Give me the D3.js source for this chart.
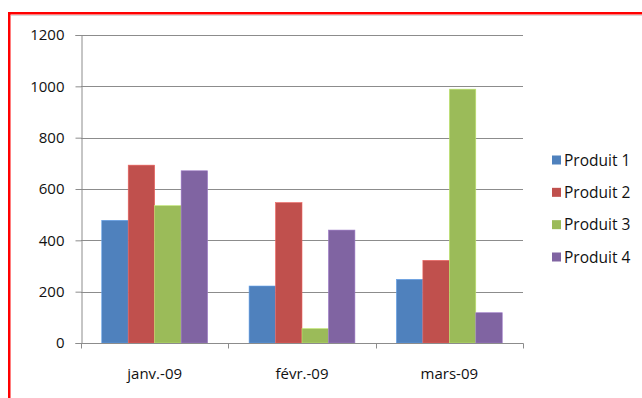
<!DOCTYPE html>
<html>
<head>
<meta charset="utf-8">
<script src="https://cdn.jsdelivr.net/npm/d3@7"></script>
<style>
  html, body { margin: 0; padding: 0; background: #fff; }
  svg { display: block; }
  text { font-family: "Open Sans", "Liberation Sans", sans-serif; fill: #111; }
</style>
</head>
<body>
<script>
// Monthly sales per product
const months = ["janv.-09", "févr.-09", "mars-09"];
const products = ["Produit 1", "Produit 2", "Produit 3", "Produit 4"];
const produit1 = [478, 222, 248];
const produit2 = [693, 547, 322];
const produit3 = [535, 56, 989];
const produit4 = [671, 440, 118];
const yTicks = [0, 200, 400, 600, 800, 1000, 1200];
const colors = ["#4F81BD", "#C0504D", "#9BBB59", "#8064A2"];

const seriesValues = [produit1, produit2, produit3, produit4];
const table = months.map((m, i) => ({
  month: m,
  values: products.map((p, j) => ({ product: p, value: seriesValues[j][i], idx: j }))
}));

const W = 642, H = 398;
const svg = d3.select("body").append("svg").attr("width", W).attr("height", H);

// Outer frame
svg.append("rect")
  .attr("x", 9.25).attr("y", 13.25)
  .attr("width", 700).attr("height", 500)
  .attr("fill", "#fff").attr("stroke", "#ff0000").attr("stroke-width", 2.5);
svg.append("line")
  .attr("x1", 11).attr("x2", 700).attr("y1", 15.5).attr("y2", 15.5)
  .attr("stroke", "#d9d9d9").attr("stroke-width", 1);

const plot = { left: 81, right: 523, top: 35, bottom: 343 };

const x0 = d3.scaleBand().domain(months).range([plot.left, plot.right]).paddingInner(0).paddingOuter(0);
const x1 = d3.scaleBand().domain(products).range([0, x0.bandwidth()]).paddingOuter(0.7843).paddingInner(0);
const y = d3.scaleLinear().domain([0, 1200]).range([plot.bottom, plot.top]);

// Gridlines
svg.append("g")
  .selectAll("line").data(yTicks.filter(t => t > 0)).join("line")
  .attr("x1", plot.left).attr("x2", plot.right)
  .attr("y1", d => Math.round(y(d)) + 0.5).attr("y2", d => Math.round(y(d)) + 0.5)
  .attr("stroke", "#8c8c8c").attr("stroke-width", 1);

// Bars
svg.append("g")
  .selectAll("g").data(table).join("g")
  .attr("transform", d => `translate(${x0(d.month)},0)`)
  .selectAll("rect").data(d => d.values).join("rect")
  .attr("x", d => x1(d.product))
  .attr("y", d => y(d.value))
  .attr("width", x1.bandwidth())
  .attr("height", d => y(0) - y(d.value))
  .attr("fill", d => colors[d.idx])
  .attr("stroke", d => d3.color(colors[d.idx]).brighter(0.6))
  .attr("stroke-width", 0.6);

// Y axis
const yAxis = d3.axisLeft(y).tickValues(yTicks).tickSize(6).tickPadding(11).tickFormat(d3.format("d"));
const gy = svg.append("g").attr("transform", `translate(${plot.left + 0.5},0)`).call(yAxis);
gy.select(".domain").attr("stroke", "#8c8c8c");
gy.selectAll(".tick line").attr("stroke", "#8c8c8c");
gy.selectAll(".tick text").attr("font-size", 15).style("fill", "#111")
  .attr("font-family", "'Open Sans', sans-serif");

// X axis: ticks at category boundaries
const gx = svg.append("g").attr("transform", `translate(0,${plot.bottom + 0.5})`);
gx.append("line").attr("x1", plot.left).attr("x2", plot.right + 0.5)
  .attr("stroke", "#8c8c8c");
const bounds = months.map(m => x0(m)).concat([plot.right]);
gx.selectAll("line.tk").data(bounds).join("line").attr("class", "tk")
  .attr("x1", d => Math.round(d) + 0.5).attr("x2", d => Math.round(d) + 0.5)
  .attr("y1", 0).attr("y2", 5).attr("stroke", "#8c8c8c");
gx.selectAll("text").data(months).join("text")
  .attr("x", d => x0(d) + x0.bandwidth() / 2)
  .attr("y", 35)
  .attr("text-anchor", "middle")
  .attr("font-size", 15)
  .text(d => d);

// Legend
const legend = svg.append("g").attr("transform", "translate(552,0)");
const ly = d3.scalePoint().domain(products).range([160, 257]);
legend.selectAll("rect").data(products).join("rect")
  .attr("x", 0).attr("y", d => ly(d) - 4.5).attr("width", 9).attr("height", 9)
  .attr("fill", (d, i) => colors[i]);
legend.selectAll("text").data(products).join("text")
  .attr("x", 12).attr("y", d => ly(d) + 5.5)
  .attr("font-size", 15.5)
  .text(d => d);
</script>
</body>
</html>
